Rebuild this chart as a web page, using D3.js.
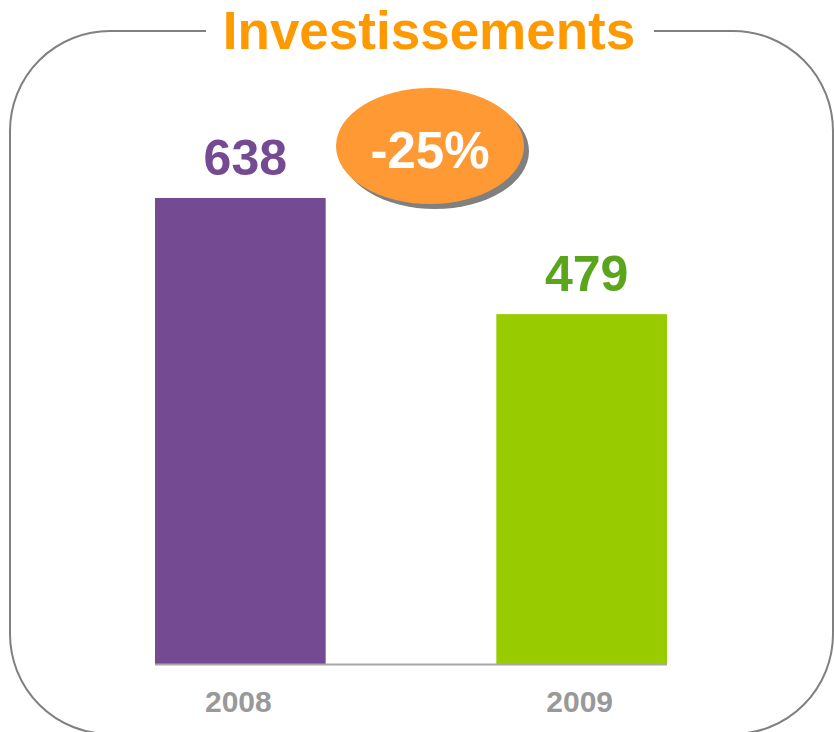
<!DOCTYPE html>
<html>
<head>
<meta charset="utf-8">
<script src="https://cdn.jsdelivr.net/npm/d3@7"></script>
<style>
  html, body { margin: 0; padding: 0; background: #fff; }
  svg { display: block; }
  text { font-family: "Liberation Sans", Arial, sans-serif; font-weight: bold; }
</style>
</head>
<body>
<svg id="chart" width="834" height="732"></svg>
<script>
const title = "Investissements";
const categories = ["2008", "2009"];
const values = [638, 479];
const barColors = ["#744A93", "#99CC00"];
const labelColors = ["#744A93", "#5AA51C"];
const changeLabel = "-25%";

const svg = d3.select("#chart");

// Rounded frame
svg.append("rect")
  .attr("x", 10).attr("y", 31)
  .attr("width", 823).attr("height", 703)
  .attr("rx", 100).attr("ry", 100)
  .attr("fill", "none")
  .attr("stroke", "#808080")
  .attr("stroke-width", 2);

// Title gap
svg.append("rect")
  .attr("x", 206).attr("y", 20)
  .attr("width", 448).attr("height", 24)
  .attr("fill", "#fff");

svg.append("text")
  .attr("x", 429).attr("y", 49)
  .attr("text-anchor", "middle")
  .attr("font-size", 53)
  .attr("fill", "#FF9900")
  .text(title);

const x = d3.scaleBand()
  .domain(categories)
  .range([155, 667])
  .paddingInner(0.5)
  .paddingOuter(0);

const y = d3.scaleLinear()
  .domain([0, 638])
  .range([664, 198]);

svg.selectAll("rect.bar")
  .data(values)
  .join("rect")
  .attr("class", "bar")
  .attr("x", (d, i) => x(categories[i]))
  .attr("width", x.bandwidth())
  .attr("y", d => y(d))
  .attr("height", d => y(0) - y(d))
  .attr("fill", (d, i) => barColors[i]);

// baseline
svg.append("line")
  .attr("x1", 155).attr("x2", 667)
  .attr("y1", y(0) + 0.5).attr("y2", y(0) + 0.5)
  .attr("stroke", "#A6A6A6")
  .attr("stroke-width", 2);

// value labels
svg.selectAll("text.val")
  .data(values)
  .join("text")
  .attr("class", "val")
  .attr("x", (d, i) => x(categories[i]) + x.bandwidth() / 2 + 5)
  .attr("y", d => y(d) - 23)
  .attr("text-anchor", "middle")
  .attr("font-size", 50)
  .attr("fill", (d, i) => labelColors[i])
  .text(d => d);

// category labels
svg.selectAll("text.cat")
  .data(categories)
  .join("text")
  .attr("class", "cat")
  .attr("x", d => x(d) + x.bandwidth() / 2 - 2)
  .attr("y", 712)
  .attr("text-anchor", "middle")
  .attr("font-size", 30)
  .attr("fill", "#999999")
  .text(d => d);

// change badge
const bx = 430, by = 146;
svg.append("ellipse")
  .attr("cx", bx + 5).attr("cy", by + 5)
  .attr("rx", 94).attr("ry", 58)
  .attr("fill", "#808080");
svg.append("ellipse")
  .attr("cx", bx).attr("cy", by)
  .attr("rx", 94).attr("ry", 58)
  .attr("fill", "#FF9933");
svg.append("text")
  .attr("x", bx).attr("y", 168)
  .attr("text-anchor", "middle")
  .attr("font-size", 51)
  .attr("fill", "#ffffff")
  .text(changeLabel);
</script>
</body>
</html>
